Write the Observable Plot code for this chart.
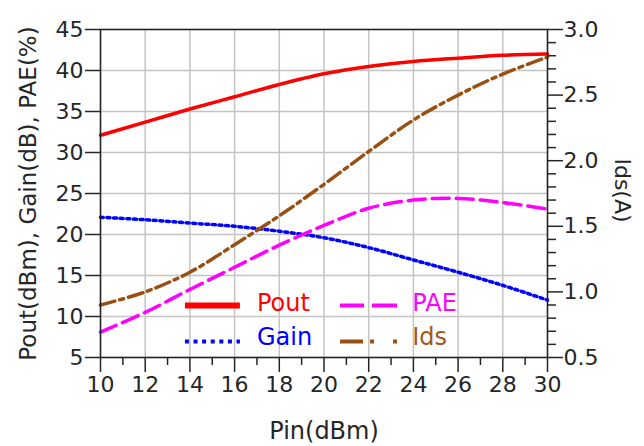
<!DOCTYPE html>
<html>
<head>
<meta charset="utf-8">
<script src="https://cdn.jsdelivr.net/npm/d3@7"></script>
<script src="https://cdn.jsdelivr.net/npm/@observablehq/plot@0.6"></script>
<style>
  html, body { margin: 0; padding: 0; background: #fff; }
</style>
</head>
<body>
<div id="chart"></div>
<script>
// ---- data ----
const pin   = [10, 12, 14, 16, 18, 20, 22, 24, 26, 28, 30];
const pout  = [32.1, 33.7, 35.3, 36.8, 38.3, 39.6, 40.5, 41.1, 41.5, 41.85, 42.0];
const gain  = [22.1, 21.8, 21.4, 21.0, 20.4, 19.6, 18.4, 16.9, 15.4, 13.8, 12.0];
const pae   = [8.1, 10.5, 13.3, 16.0, 18.7, 21.1, 23.2, 24.2, 24.4, 23.9, 23.1];
const idsA  = [0.90, 1.00, 1.15, 1.36, 1.58, 1.82, 2.07, 2.31, 2.50, 2.66, 2.79];

const xTicks = [10, 12, 14, 16, 18, 20, 22, 24, 26, 28, 30];
const xMinor = [11, 13, 15, 17, 19, 21, 23, 25, 27, 29];
const leftTicks = [5, 10, 15, 20, 25, 30, 35, 40, 45];
const rightTicks = [0.5, 1.0, 1.5, 2.0, 2.5, 3.0];
const rightMinor = [0.6, 0.7, 0.8, 0.9, 1.1, 1.2, 1.3, 1.4, 1.6, 1.7, 1.8, 1.9,
                    2.1, 2.2, 2.3, 2.4, 2.6, 2.7, 2.8, 2.9];

const seriesNames = ["Pout", "Gain", "PAE", "Ids"];
const seriesColors = ["#ff0000", "#0000ff", "#ff00ff", "#9a5012"];

// ---- helpers ----
const toLeft = a => 5 + (a - 0.5) * 16;   // Ids(A) 0.5..3.0 -> left 5..45
const rows = (ys) => pin.map((x, i) => ({x, y: ys[i]}));

const font = "DejaVu Sans, sans-serif";
const textColor = "#262626";

// legend layout (data coordinates)
const legendX = {col1: [13.8, 16.26], col1Text: 17.0, col2: [20.74, 23.29], col2Text: 23.95};
const legendY = {row1: 11.35, row2: 6.95, row1Text: 11.6, row2Text: 7.45};

const chart = Plot.plot({
  width: 644,
  height: 446,
  marginLeft: 100,
  marginRight: 97,
  marginTop: 29,
  marginBottom: 89,
  style: {fontFamily: font, color: textColor, background: "#fff", overflow: "visible"},
  x: {domain: [10, 30]},
  y: {domain: [5, 45]},
  marks: [
    Plot.gridX(xTicks, {stroke: "#c4c4c4", strokeOpacity: 1, strokeWidth: 1.5}),
    Plot.gridY(leftTicks, {stroke: "#c4c4c4", strokeOpacity: 1, strokeWidth: 1.5}),
    // bottom axis
    Plot.axisX({ticks: xTicks, tickSize: 15, tickPadding: 4, fontSize: 22, strokeWidth: 1.5, label: null}),
    Plot.axisX({ticks: xMinor, tickSize: 8, tickFormat: () => "", strokeWidth: 1.5, label: null}),
    // left axis
    Plot.axisY({ticks: leftTicks, anchor: "left", tickSize: 15, tickPadding: 2, fontSize: 22, strokeWidth: 1.5, label: null}),
    // right axis (Ids)
    Plot.axisY({ticks: rightTicks.map(toLeft), anchor: "right", tickSize: 15, tickPadding: 1, fontSize: 22,
                strokeWidth: 1.5, tickFormat: d => ((d - 5) / 16 + 0.5).toFixed(1), label: null}),
    Plot.axisY({ticks: rightMinor.map(toLeft), anchor: "right", tickSize: 8, tickFormat: () => "",
                strokeWidth: 1.5, label: null}),
    // series
    Plot.line(rows(pout), {x: "x", y: "y", stroke: seriesColors[0], strokeWidth: 3.5, curve: "catmull-rom"}),
    Plot.line(rows(gain), {x: "x", y: "y", stroke: seriesColors[1], strokeWidth: 3.5, strokeDasharray: "3,3.6", curve: "catmull-rom"}),
    Plot.line(rows(pae), {x: "x", y: "y", stroke: seriesColors[2], strokeWidth: 3.5, strokeDasharray: "17,7", curve: "catmull-rom"}),
    Plot.line(pin.map((x, i) => ({x, y: toLeft(idsA[i])})), {x: "x", y: "y", stroke: seriesColors[3], strokeWidth: 3.5, strokeDasharray: "15,5,4,5", curve: "catmull-rom"}),
    // legend samples
    Plot.ruleY([legendY.row1], {x1: legendX.col1[0], x2: legendX.col1[1], stroke: seriesColors[0], strokeWidth: 6}),
    Plot.ruleY([legendY.row2], {x1: legendX.col1[0], x2: legendX.col1[1], stroke: seriesColors[1], strokeWidth: 4, strokeDasharray: "4,4.6"}),
    Plot.ruleY([legendY.row1], {x1: legendX.col2[0], x2: legendX.col2[1], stroke: seriesColors[2], strokeWidth: 4, strokeDasharray: "24,8,26"}),
    Plot.ruleY([legendY.row2], {x1: legendX.col2[0], x2: legendX.col2[1], stroke: seriesColors[3], strokeWidth: 4, strokeDasharray: "23,7,4,19,4,40"}),
    // legend labels
    Plot.text([seriesNames[0]], {x: legendX.col1Text, y: legendY.row1Text, text: d => d, fill: seriesColors[0], fontSize: 24, textAnchor: "start", lineAnchor: "middle"}),
    Plot.text([seriesNames[1]], {x: legendX.col1Text, y: legendY.row2Text, text: d => d, fill: seriesColors[1], fontSize: 24, textAnchor: "start", lineAnchor: "middle"}),
    Plot.text([seriesNames[2]], {x: legendX.col2Text, y: legendY.row1Text, text: d => d, fill: seriesColors[2], fontSize: 24, textAnchor: "start", lineAnchor: "middle"}),
    Plot.text([seriesNames[3]], {x: legendX.col2Text, y: legendY.row2Text, text: d => d, fill: "#a0581e", fontSize: 24, textAnchor: "start", lineAnchor: "middle"}),
    // axis titles
    Plot.text(["Pout(dBm), Gain(dB), PAE(%)"], {frameAnchor: "left", dx: -72, rotate: -90, text: d => d, fontSize: 23, fill: textColor, textAnchor: "middle", lineAnchor: "middle"}),
    Plot.text(["Ids(A)"], {frameAnchor: "right", dx: 75, dy: -3, rotate: 90, text: d => d, fontSize: 22, fill: textColor, textAnchor: "middle", lineAnchor: "middle"}),
    Plot.text(["Pin(dBm)"], {frameAnchor: "bottom", dy: 74, text: d => d, fontSize: 24, fill: textColor, textAnchor: "middle", lineAnchor: "middle"}),
    Plot.frame({stroke: "#222", strokeWidth: 1.5})
  ]
});
document.getElementById("chart").appendChild(chart);
</script>
</body>
</html>
